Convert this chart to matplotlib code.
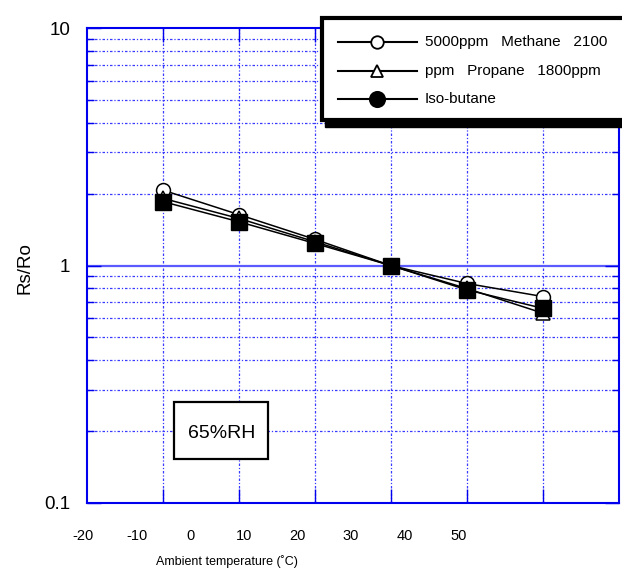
import numpy as np
import matplotlib
matplotlib.use('Agg')
import matplotlib.pyplot as plt
from matplotlib.patches import Rectangle
from matplotlib.lines import Line2D

plt.rcParams['font.family'] = ['Liberation Sans', 'DejaVu Sans']

# data
temps = [-10, 0, 10, 20, 30, 40]
methane = [2.08, 1.64, 1.29, 1.0, 0.84, 0.74]
propane = [1.92, 1.58, 1.26, 1.0, 0.80, 0.63]
butane = [1.86, 1.53, 1.24, 1.0, 0.79, 0.66]

xtick_labels = ['-20', '-10', '0', '10', '20', '30', '40', '50']
legend_labels = ['5000ppm   Methane   2100', 'ppm   Propane   1800ppm', 'Iso-butane']
ytick_vals = [0.1, 1, 10]
ytick_labels = ['0.1', '1', '10']

W, H = 622, 576
fig = plt.figure(figsize=(W / 100, H / 100), dpi=100)
ax = fig.add_axes([86.7 / W, 1 - 502.7 / H, 532 / W, 474.4 / H])

blue = '#0000ee'
gridc = '#3a3aff'
grid_ls = (0, (2, 1.5, 1, 1.5))

ax.set_yscale('log')
ax.set_ylim(0.1, 10)
ax.set_xlim(-20, 50)

# grid
for t in range(-10, 50, 10):
    ax.axvline(t, color=gridc, lw=0.9, ls=grid_ls, zorder=1)
for dec in [0.1, 1]:
    for k in range(2, 10):
        ax.axhline(dec * k, color=gridc, lw=0.9, ls=grid_ls, zorder=1)
ax.axhline(1, color='#5a5aff', lw=1.6, zorder=1)

ax.set_xticks(range(-10, 50, 10))
ax.set_xticklabels([])
ax.set_yticks(ytick_vals)
ax.set_yticklabels(ytick_labels, fontsize=13.5)
ax.yaxis.set_minor_locator(matplotlib.ticker.LogLocator(subs=range(2, 10)))
ax.yaxis.set_minor_formatter(matplotlib.ticker.NullFormatter())
ax.tick_params(axis='both', which='both', direction='in', color=blue,
               top=True, right=True, width=1)
ax.tick_params(axis='both', which='major', length=10)
ax.tick_params(axis='both', which='minor', length=5)
ax.tick_params(axis='y', pad=12)
for sp in ax.spines.values():
    sp.set_color(blue)
    sp.set_linewidth(1.5)

# x labels are offset from the grid in the original
xpos = -0.007 + 0.1008 * np.arange(len(xtick_labels))
for px, lab in zip(xpos, xtick_labels):
    ax.text(px, -0.07, lab, transform=ax.transAxes, ha='center', va='center',
            fontsize=10.5)

ax.plot(temps, methane, color='black', lw=1.1, marker='o', ms=10,
        mfc='white', mec='black', mew=1.1, zorder=3)
ax.plot(temps, propane, color='black', lw=1.1, marker='^', ms=10,
        mfc='white', mec='black', mew=1.1, zorder=4)
ax.plot(temps, butane, color='black', lw=1.1, marker='s', ms=11,
        mfc='black', mec='black', zorder=5)

fig.text(25 / W, 1 - 268 / H, 'Rs/Ro', rotation=90, ha='center', va='center',
         fontsize=13.5)
fig.text(227 / W, 1 - 562 / H, 'Ambient temperature (\u02daC)', ha='center',
         va='center', fontsize=9)

# 65%RH box
fig.patches.append(Rectangle((173.5 / W, 1 - 459 / H), 94 / W, 57 / H,
                             transform=fig.transFigure, facecolor='white',
                             edgecolor='black', lw=1.6, zorder=10))
fig.text(222 / W, 1 - 434 / H, '65%RH', ha='center', va='center',
         fontsize=14, zorder=11)

# legend box with drop shadow
fig.patches.append(Rectangle((325 / W, 1 - 127 / H), 320 / W, 102 / H,
                             transform=fig.transFigure, facecolor='black',
                             edgecolor='black', zorder=10))
fig.patches.append(Rectangle((322 / W, 1 - 120 / H), 320 / W, 102 / H,
                             transform=fig.transFigure, facecolor='white',
                             edgecolor='black', lw=3, zorder=11))
markers = [('o', 'white', 9), ('^', 'white', 9), ('o', 'black', 11)]
rows = [41.7, 71, 99.3]
for (m, fc, ms), yy, lab in zip(markers, rows, legend_labels):
    yf = 1 - yy / H
    fig.lines.append(Line2D([338 / W, 417 / W], [yf, yf], color='black',
                            lw=1.5, transform=fig.transFigure, zorder=12))
    fig.lines.append(Line2D([377 / W], [yf], marker=m, ms=ms, mfc=fc,
                            mec='black', mew=1.3, transform=fig.transFigure,
                            zorder=13))
    fig.text(425 / W, yf, lab, ha='left', va='center', fontsize=11,
             zorder=13)

fig.savefig('out.png', dpi=100)
